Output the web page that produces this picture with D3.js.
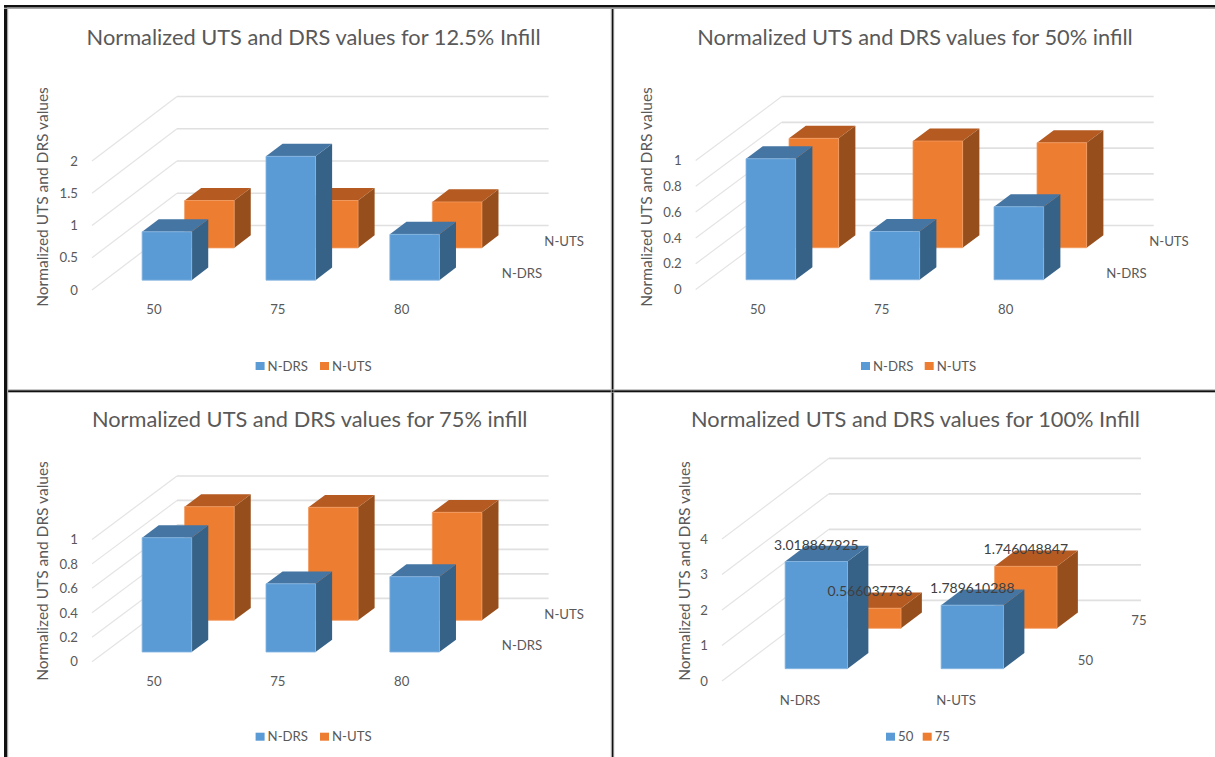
<!DOCTYPE html>
<html>
<head>
<meta charset="utf-8">
<title>Normalized UTS and DRS values</title>
<style>
html, body { margin: 0; padding: 0; background: #fff; }
svg { display: block; }
text { font-family: Lato, "Open Sans", sans-serif; fill: #595959; }
.titulo { font-size: 21.8px; text-anchor: middle; }
.eixo-y { font-size: 15.5px; text-anchor: middle; }
.axis text, .rotulo, .legenda text { font-size: 13.2px; }
.valor { font-size: 14px; fill: #404040; text-anchor: middle; }
.grade { stroke: #e4e4e4; stroke-width: 1.2; fill: none; }
.grade-fundo { stroke: #e0e0e0; stroke-width: 1.7; fill: none; }
.moldura { fill: #111; }
.moldura-clara { fill: #a6a6a6; }
</style>
</head>
<body>
<svg width="1215" height="757"></svg>
<script src="https://d3js.org/d3.v7.min.js"></script>
<script>

// categorias
var temperaturas = ["50", "75", "80"];
var normalizados = ["N-DRS", "N-UTS"];

// valores de cada painel
var drs125 = [0.75, 1.92, 0.71];
var uts125 = [0.735, 0.735, 0.713];
var drs50 = [0.938, 0.374, 0.566];
var uts50 = [0.848, 0.827, 0.814];
var drs75 = [0.935, 0.558, 0.616];
var uts75 = [0.929, 0.924, 0.883];
var serie50 = [3.018867925, 1.789610288];
var serie75 = [0.566037736, 1.746048847];

// marcas do eixo y
var ticks125 = [0, 0.5, 1, 1.5, 2];
var ticksDecimo = [0, 0.2, 0.4, 0.6, 0.8, 1];
var ticks100 = [0, 1, 2, 3, 4];

var corFrente = {0: "#5b9bd5", 1: "#ed7d31"};
var corTopo = {0: "#4575a2", 1: "#b55a21"};
var corLado = {0: "#376287", 1: "#964f1c"};
var corBorda = {0: "#85b5e1", 1: "#f29a60"};

var svg = d3.select("svg");

// bordas da tabela
var molduraEscura = [
  [4, 5, 1211, 2.6], [4, 5, 3, 752], [7, 390.2, 1208, 2], [611.6, 8, 2, 749]
];
var molduraClara = [
  [4, 7.6, 1211, 1.4], [7, 9, 1.2, 748], [7, 389.4, 1208, 0.8], [7, 392.2, 1208, 0.6],
  [610.8, 8, 0.8, 749], [613.6, 8, 0.6, 749]
];
svg.selectAll("rect.moldura").data(molduraEscura).enter().append("rect")
    .attr("class", "moldura")
    .attr("x", d => d[0]).attr("y", d => d[1])
    .attr("width", d => d[2]).attr("height", d => d[3]);
svg.selectAll("rect.moldura-clara").data(molduraClara).enter().append("rect")
    .attr("class", "moldura-clara")
    .attr("x", d => d[0]).attr("y", d => d[1])
    .attr("width", d => d[2]).attr("height", d => d[3]);

// grafico de barras em falsa perspectiva: z vai de 0 (frente) a 1 (fundo)
function desenhaGrafico(p) {
  var g = svg.append("g");

  var x = d3.scaleBand().domain(p.categorias)
      .range([p.x0, p.x0 + p.largura])
      .paddingInner(0.6).paddingOuter(0.3);
  var y = d3.scaleLinear().domain(p.dominio)
      .range([p.y0, p.y0 - p.altura]);
  var z = d3.scaleBand().domain(p.series)
      .range([0, 1])
      .paddingInner(0.61).paddingOuter(0.305);

  // projecao de um ponto do espaco para a tela
  var px = (vx, vz) => vx + vz * p.fundoX;
  var py = (vy, vz) => vy - vz * p.fundoY;
  var linha = d3.line();

  // grade: parede da esquerda e parede do fundo
  p.ticks.forEach(function(t) {
    g.append("path").attr("class", "grade")
        .attr("d", linha([
          [px(p.x0, 0), py(y(t), 0)],
          [px(p.x0, 1), py(y(t), 1)]
        ]));
    g.append("path").attr("class", "grade-fundo")
        .attr("d", linha([
          [px(p.x0, 1), py(y(t), 1)],
          [px(p.x0 + p.largura, 1), py(y(t), 1)]
        ]));
  });

  // a serie de tras primeiro, para a da frente cobrir
  p.series.slice().reverse().forEach(function(serie) {
    var i = p.series.indexOf(serie);
    var z0 = z(serie), z1 = z0 + z.bandwidth();

    p.categorias.forEach(function(cat, j) {
      var v = p.valores[i][j];
      var xa = x(cat), xb = xa + x.bandwidth();
      var base = y(0), topo = y(v);

      g.append("path").attr("fill", corLado[i])
          .attr("d", linha([
            [px(xb, z0), py(base, z0)], [px(xb, z1), py(base, z1)],
            [px(xb, z1), py(topo, z1)], [px(xb, z0), py(topo, z0)]
          ]) + "Z");
      g.append("path").attr("fill", corTopo[i])
          .attr("d", linha([
            [px(xa, z0), py(topo, z0)], [px(xa, z1), py(topo, z1)],
            [px(xb, z1), py(topo, z1)], [px(xb, z0), py(topo, z0)]
          ]) + "Z");
      g.append("path").attr("fill", corFrente[i])
          .attr("stroke", corBorda[i]).attr("stroke-width", 0.8)
          .attr("d", linha([
            [px(xa, z0), py(base, z0)], [px(xb, z0), py(base, z0)],
            [px(xb, z0), py(topo, z0)], [px(xa, z0), py(topo, z0)]
          ]) + "Z");
    });
  });

  // rotulos de valor ficam por cima de todas as barras
  if (p.mostraValores) {
    p.series.forEach(function(serie, i) {
      var zc = z(serie);
      p.categorias.forEach(function(cat, j) {
        var v = p.valores[i][j];
        g.append("text").attr("class", "valor")
            .attr("x", px(x(cat) + x.bandwidth() / 2, zc))
            .attr("y", py(y(v), zc) - 12)
            .text(v);
      });
    });
  }

  // eixo y
  var eixoY = g.append("g").attr("class", "axis")
      .attr("transform", "translate(" + p.x0 + ",0)")
      .call(d3.axisLeft(y).tickValues(p.ticks).tickSize(0).tickPadding(14).tickFormat(d => d));
  eixoY.select(".domain").remove();

  // eixo das categorias
  var eixoX = g.append("g").attr("class", "axis")
      .attr("transform", "translate(0," + p.y0 + ")")
      .call(d3.axisBottom(x).tickSize(0).tickPadding(15));
  eixoX.select(".domain").remove();

  // nomes das series ao longo da profundidade
  p.series.forEach(function(serie) {
    var zc = z(serie) + z.bandwidth() / 2;
    g.append("text").attr("class", "rotulo")
        .attr("x", px(p.x0 + p.largura, zc) + 17)
        .attr("y", py(p.y0, zc))
        .attr("dy", "0.35em")
        .text(serie);
  });

  g.append("text").attr("class", "titulo")
      .attr("x", p.tituloX).attr("y", p.tituloY)
      .attr("dy", "0.35em")
      .text(p.titulo);

  g.append("text").attr("class", "eixo-y")
      .attr("transform", "translate(" + p.eixoX + "," + p.eixoCentro + ") rotate(-90)")
      .attr("dy", "0.35em")
      .text("Normalized UTS and DRS values");

  // legenda
  var legenda = g.append("g").attr("class", "legenda");
  p.series.forEach(function(serie, i) {
    legenda.append("rect")
        .attr("x", p.legendaX[i]).attr("y", p.legendaY - 4)
        .attr("width", 9).attr("height", 8)
        .attr("fill", corFrente[i]);
    legenda.append("text")
        .attr("x", p.legendaX[i] + 12).attr("y", p.legendaY)
        .attr("dy", "0.35em")
        .text(serie);
  });
}

var paineis = [
  {
    titulo: "Normalized UTS and DRS values for 12.5% Infill",
    categorias: temperaturas, series: normalizados, valores: [drs125, uts125],
    dominio: [0, 2], ticks: ticks125,
    x0: 92, y0: 290, largura: 371.6, altura: 129, fundoX: 85, fundoY: 64.5,
    tituloX: 313.6, tituloY: 37.5, eixoX: 43, eixoCentro: 197,
    legendaX: [255.6, 320], legendaY: 366
  },
  {
    titulo: "Normalized UTS and DRS values for 50% infill",
    categorias: temperaturas, series: normalizados, valores: [drs50, uts50],
    dominio: [0, 1], ticks: ticksDecimo,
    x0: 695.7, y0: 289.5, largura: 372, altura: 129, fundoX: 86, fundoY: 64,
    tituloX: 915, tituloY: 37.5, eixoX: 647, eixoCentro: 197,
    legendaX: [861, 924.7], legendaY: 366
  },
  {
    titulo: "Normalized UTS and DRS values for 75% infill",
    categorias: temperaturas, series: normalizados, valores: [drs75, uts75],
    dominio: [0, 1], ticks: ticksDecimo,
    x0: 92, y0: 661.7, largura: 371.6, altura: 122.3, fundoX: 85, fundoY: 63.4,
    tituloX: 309.7, tituloY: 419.5, eixoX: 43, eixoCentro: 571,
    legendaX: [255.6, 320], legendaY: 736.7
  },
  {
    titulo: "Normalized UTS and DRS values for 100% Infill",
    categorias: normalizados, series: ["50", "75"], valores: [serie50, serie75],
    dominio: [0, 4], ticks: ticks100, mostraValores: true,
    x0: 722, y0: 681, largura: 312, altura: 142, fundoX: 107, fundoY: 80.7,
    tituloX: 915.4, tituloY: 419.5, eixoX: 685, eixoCentro: 571,
    legendaX: [886, 922.7], legendaY: 736.7
  }
];

paineis.forEach(desenhaGrafico);

</script>
</body>
</html>
